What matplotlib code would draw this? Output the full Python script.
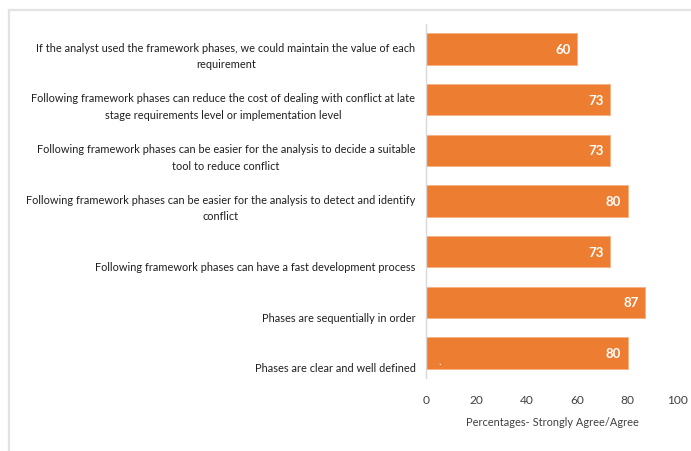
import matplotlib
matplotlib.use("Agg")
import matplotlib.pyplot as plt
from matplotlib.lines import Line2D

categories = [
    "If the analyst used the framework phases, we could maintain the value of each\nrequirement",
    "Following framework phases can reduce the cost of dealing with conflict at late\nstage requirements level or implementation level",
    "Following framework phases can be easier for the analysis to decide a suitable\ntool to reduce conflict",
    "Following framework phases can be easier for the analysis to detect and identify\nconflict",
    "Following framework phases can have a fast development process",
    "Phases are sequentially in order",
    "Phases are clear and well defined",
]
values = [60, 73, 73, 80, 73, 87, 80]
xticks = [0, 20, 40, 60, 80, 100]
xlabel = "Percentages- Strongly Agree/Agree"

plt.rcParams['font.family'] = ['Lato', 'DejaVu Sans']

fig = plt.figure(figsize=(6.91, 4.52), dpi=100)
ax = fig.add_axes([426/691, 1-379.4/452, (678-426)/691, (379.4-24.6)/452])

ypos = list(range(len(values)))
bars = ax.barh(ypos, values, height=0.62, color='#ED7D31', edgecolor='#F4B183', linewidth=0.6)
ax.set_xlim(0, 100)
ax.set_ylim(len(values)-0.5, -0.5)

for y, v in zip(ypos, values):
    ax.text(v - 2.6, y, str(v), ha='right', va='center', color='white',
            fontsize=9.5, fontweight='bold')

for y, c in zip(ypos, categories):
    ax.text(-4.2, y + 0.36, c, ha='right', va='baseline', multialignment='center',
            fontsize=7.9, color='#1f1f1f', transform=ax.transData, clip_on=False,
            linespacing=1.62)

# stray mark present in the original
ax.text(5.5, 6.22, '.', color='white', fontsize=8, ha='center', va='baseline')

ax.set_yticks([])
ax.set_xticks(xticks)
ax.tick_params(axis='x', length=0, pad=11, labelsize=8.6, labelcolor='#404040')
for s in ['top', 'right', 'bottom']:
    ax.spines[s].set_visible(False)
ax.spines['left'].set_color('#d9d9d9')
ax.spines['left'].set_linewidth(1.0)
ax.set_xlabel(xlabel, fontsize=7.9, color='#404040', labelpad=8)

# figure border (light grey)
fig.add_artist(Line2D([9/691, 9/691], [0, 1-11/452], transform=fig.transFigure, color='#e3e3e3', lw=1.6))
fig.add_artist(Line2D([9/691, 1], [1-11/452, 1-11/452], transform=fig.transFigure, color='#e3e3e3', lw=1.6))

fig.savefig("out.png", dpi=100)
